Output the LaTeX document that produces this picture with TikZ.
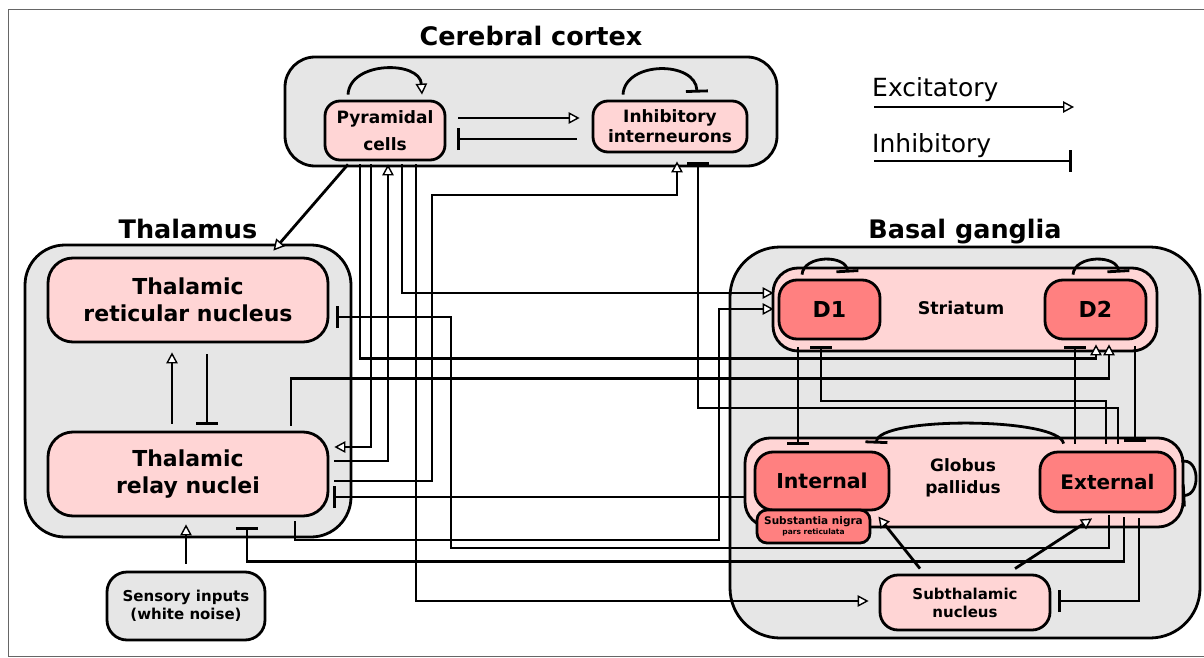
\documentclass[tikz,border=0pt]{standalone}
\usepackage{fontspec}
\setmainfont{DejaVu Sans}
\usetikzlibrary{arrows.meta,calc}
\definecolor{regiongray}{HTML}{E6E6E6}
\definecolor{cellpink}{HTML}{FFD5D5}
\definecolor{cellred}{HTML}{FF8080}
\newcommand{\myfs}[2]{\fontsize{#1}{#2}\selectfont}
\tikzset{
  region/.style={draw, fill=regiongray, line width=2.8pt, inner sep=0pt, rectangle, rounded corners=#1},
  region/.default=30pt,
  subregion/.style={draw, fill=cellpink, line width=2.8pt, inner sep=0pt, rectangle, rounded corners=25pt},
  cell/.style={draw, fill=cellpink, line width=2.8pt, inner sep=0pt, rectangle, align=center, rounded corners=#1},
  cell/.default=18pt,
  redcell/.style={cell=#1, fill=cellred},
  redcell/.default=18pt,
  title/.style={font=\bfseries\myfs{25.5}{30}, anchor=base},
  wire/.style={line width=2.8pt},
  exc/.style={wire, -{Triangle[length=11pt,width=11.5pt,fill=white,line width=1.4pt]}},
  inh/.style={wire, -{Bar[width=22pt]}}
}
\begin{document}
\begin{tikzpicture}[x=1pt,y=-1pt]
\useasboundingbox (0,0) rectangle (1204,658);
\draw[black!60, line width=1pt] (8,10) rectangle (1220,656);

% regions
\node[region=30pt, minimum width=492pt, minimum height=109pt] (cortex) at (531,111.5) {};
\node[region=40pt, minimum width=326pt, minimum height=292pt] (thal) at (188,391) {};
\node[region=50pt, minimum width=470pt, minimum height=391pt] (bg) at (965,442.5) {};
\node[subregion, minimum width=384pt, minimum height=83pt] (striatum) at (965,309.5) {};
\node[subregion, minimum width=438pt, minimum height=89pt] (gp) at (964,482.5) {};

% titles
\node[title] (cortextitle) at (531,46) {Cerebral cortex};
\node[title] (thaltitle) at (188,238) {Thalamus};
\node[title] (bgtitle) at (965,238) {Basal ganglia};

% cells
\node[cell=15pt, minimum width=120pt, minimum height=59pt, font=\bfseries\myfs{17}{27}] (pyr) at (385,130.5) {Pyramidal\\cells};
\node[cell=15pt, minimum width=154pt, minimum height=51pt, font=\bfseries\myfs{17}{20}] (inh) at (670,126.5) {Inhibitory\\interneurons};
\node[cell=25pt, minimum width=280pt, minimum height=84pt, font=\bfseries\myfs{22}{27}] (trn) at (188,300) {Thalamic\\reticular nucleus};
\node[cell=25pt, minimum width=280pt, minimum height=84pt, font=\bfseries\myfs{22}{27}] (relay) at (188,474) {Thalamic\\relay nuclei};
\node[cell=20pt, fill=regiongray, minimum width=158pt, minimum height=68pt, font=\bfseries\myfs{15}{18}] (sens) at (186,606) {Sensory inputs\\(white noise)};

\node[font=\bfseries\myfs{17.5}{20}] (striatumlab) at (961,308) {Striatum};
\node[redcell, minimum width=101pt, minimum height=59pt, font=\bfseries\myfs{22}{26}] (d1) at (829.5,309.5) {D1};
\node[redcell, minimum width=101pt, minimum height=59pt, font=\bfseries\myfs{22}{26}] (d2) at (1095.5,309.5) {D2};

\node[align=center, font=\bfseries\myfs{17}{22}] (gplab) at (963,477.5) {Globus\\pallidus};
\node[redcell, minimum width=134pt, minimum height=58pt, font=\bfseries\myfs{20.5}{24}] (gpi) at (822,481) {Internal};
\node[redcell=10pt, minimum width=113pt, minimum height=33pt] (snr) at (813.5,526.5) {};
\node[anchor=base, font=\bfseries\myfs{10.5}{12}, inner sep=0pt] (snrA) at (813.5,524.5) {Substantia nigra};
\node[anchor=base, font=\bfseries\myfs{7.5}{9}, inner sep=0pt] (snrB) at (813.5,534) {pars reticulata};
\node[redcell, minimum width=135pt, minimum height=60pt, font=\bfseries\myfs{20}{24}] (gpe) at (1107.5,482) {External};
\node[cell, minimum width=170pt, minimum height=55pt, font=\bfseries\myfs{15}{18}] (stn) at (965,602.5) {Subthalamic\\nucleus};

% legend
\node[anchor=base west, font=\myfs{25}{30}, inner sep=0pt] (exclab) at (872,97) {Excitatory};
\node[anchor=base west, font=\myfs{25}{30}, inner sep=0pt] (inhlab) at (872,152) {Inhibitory};
\coordinate (excA) at (874,107); \coordinate (excB) at (1074,107);
\coordinate (inhA) at (874,161); \coordinate (inhB) at (1072,161);
\draw[exc] (excA) -- (excB);
\draw[inh] (inhA) -- (inhB);

% cortex connectors
\draw[exc] ($(pyr.north)+(-37,-5)$) .. controls ($(pyr.north)+(-35,-39)$) and ($(pyr.north)+(35,-39)$) .. ($(pyr.north)+(37,-5)$);
\draw[inh] ($(inh.north)+(-47,-5)$) .. controls ($(inh.north)+(-45,-39)$) and ($(inh.north)+(26,-39)$) .. ($(inh.north)+(27,-7)$);
\draw[exc] ($(pyr.east)+(12,-12.5)$) -- ($(inh.west)+(-12,-8.5)$);
\draw[inh] ($(inh.west)+(-15,12.5)$) -- ($(pyr.east)+(11,8.5)$);
\draw[exc] ($(pyr.south)+(-37,3)$) -- ($(trn.north east)+(-56,-6)$);

% cortex <-> thalamus / basal ganglia
\draw[exc] ($(pyr.south)+(-25,3)$) |- ($(d2.south)+(0.5,18)$) -- ($(d2.south)+(0.5,4)$);
\draw[exc] ($(pyr.south)+(-14,3)$) |- ($(relay.east)+(5,-27)$);
\draw[exc] ($(relay.east)+(5,-13)$) -| ($(pyr.south)+(3,3)$);
\draw[exc] ($(pyr.south)+(17,3)$) |- ($(d1.west)+(-4,-16.5)$);
\draw[exc] ($(pyr.south)+(31,3)$) |- ($(stn.west)+(-10,-1.5)$);
\draw[exc] ($(relay.east)+(5,7)$) -| (432,195) -| ($(inh.south)+(7,8)$);
\draw[inh] ($(gpe.north)+(10.5,-7)$) |- (698,408) -- ($(inh.south)+(28,9)$);

% thalamus
\draw[exc] ($(relay.north)+(-16,-7)$) -- ($(trn.south)+(-16,9)$);
\draw[inh] ($(trn.south)+(19,11)$) -- ($(relay.north)+(19,-6)$);
\draw[exc] ($(sens.north)+(0,-7)$) -- ($(relay.south)+(-2,7)$);
\draw[inh] ($(gpe.south)+(1.5,2)$) |- (451,548) |- ($(trn.east)+(7,17)$);
\draw[inh] ($(gpe.south)+(16.5,4)$) |- ($(relay.south)+(59,44)$) -- ($(relay.south)+(59,10)$);
\draw[inh] ($(gp.west)+(0,14.5)$) -- ($(relay.east)+(4,23)$);
\draw[exc] ($(relay.south)+(107,4)$) |- (719,540) |- ($(d1.west)+(-4,-0.5)$);
\draw[exc] ($(relay.north)+(103,-5)$) |- ($(d2.south)+(13.5,38)$) -- ($(d2.south)+(13.5,4)$);

% basal ganglia
\draw[inh] ($(d1.north)+(-27.5,-4)$) .. controls ($(d1.north)+(-26,-24)$) and ($(d1.north)+(17,-24)$) .. ($(d1.north)+(18,-6)$);
\draw[inh] ($(d2.north)+(-22.5,-4)$) .. controls ($(d2.north)+(-21,-24)$) and ($(d2.north)+(22,-24)$) .. ($(d2.north)+(23,-6)$);
\draw[inh] ($(d1.south)+(-31.5,7)$) -- ($(gpi.north)+(-24,-6)$);
\draw[inh] ($(gpe.north)+(-1.5,-7)$) |- (821,401) -- ($(d1.south)+(-8.5,6)$);
\draw[inh] ($(gpe.north)+(-32.5,-7)$) -- ($(d2.south)+(-20.5,6)$);
\draw[inh] ($(d2.south)+(39.5,6)$) -- ($(gpe.north)+(27.5,-9)$);
\draw[inh] ($(gpe.north west)+(25,-7)$) .. controls ($(gpe.north west)+(20,-34)$) and ($(gpi.north east)+(-13,-34)$) .. ($(gpi.north east)+(-14,-7)$);
\draw[inh] ($(gpe.north east)+(5,11)$) .. controls ($(gpe.north east)+(23,6)$) and ($(gpe.north east)+(25,44)$) .. ($(gpe.north east)+(6,45)$);
\draw[exc] ($(stn.north)+(-45,-5)$) -- ($(snr.north east)+(7,8)$);
\draw[exc] ($(stn.north)+(50,-5)$) -- ($(gpe.south)+(-15.5,5)$);
\draw[inh] ($(gpe.south)+(31.5,5)$) |- ($(stn.east)+(7,-1.5)$);
\end{tikzpicture}
\end{document}
